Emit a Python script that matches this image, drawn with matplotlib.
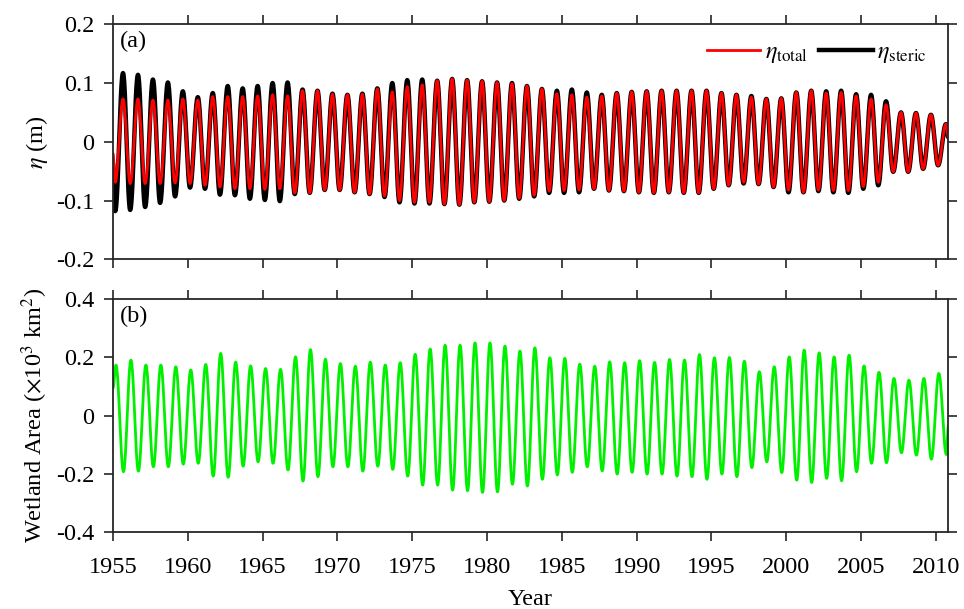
import numpy as np
import matplotlib
matplotlib.use("Agg")
import matplotlib.pyplot as plt
from matplotlib.ticker import FuncFormatter

plt.rcParams['font.family'] = ['Liberation Serif', 'DejaVu Serif']
plt.rcParams['mathtext.fontset'] = 'stix'
plt.rcParams['axes.unicode_minus'] = False

# yearly extremes (1955-2010)
years = np.arange(1955, 2011)

steric_peak = [0.117, 0.114, 0.106, 0.101, 0.086, 0.076, 0.083, 0.095, 0.091, 0.095,
               0.100, 0.101, 0.089, 0.087, 0.082, 0.080, 0.082, 0.091, 0.100, 0.105,
               0.106, 0.104, 0.107, 0.105, 0.103, 0.101, 0.100, 0.095, 0.090, 0.087,
               0.089, 0.084, 0.080, 0.083, 0.085, 0.086, 0.087, 0.087, 0.087, 0.087,
               0.083, 0.080, 0.078, 0.073, 0.074, 0.084, 0.087, 0.086, 0.087, 0.081,
               0.080, 0.069, 0.050, 0.049, 0.046, 0.030]
steric_trough = [-0.118, -0.116, -0.111, -0.104, -0.093, -0.078, -0.080, -0.090, -0.091, -0.097,
                 -0.099, -0.101, -0.089, -0.087, -0.082, -0.082, -0.086, -0.089, -0.094, -0.103,
                 -0.105, -0.105, -0.106, -0.107, -0.103, -0.102, -0.100, -0.097, -0.093, -0.087,
                 -0.087, -0.086, -0.080, -0.083, -0.084, -0.086, -0.087, -0.086, -0.087, -0.087,
                 -0.080, -0.074, -0.071, -0.072, -0.077, -0.086, -0.086, -0.084, -0.086, -0.087,
                 -0.080, -0.074, -0.051, -0.051, -0.046, -0.040]
total_peak = [0.073, 0.073, 0.071, 0.071, 0.073, 0.071, 0.077, 0.077, 0.077, 0.078,
              0.080, 0.078, 0.087, 0.087, 0.081, 0.080, 0.081, 0.090, 0.085, 0.094,
              0.097, 0.104, 0.107, 0.105, 0.103, 0.101, 0.099, 0.095, 0.090, 0.082,
              0.080, 0.076, 0.078, 0.083, 0.085, 0.086, 0.087, 0.087, 0.087, 0.087,
              0.083, 0.080, 0.076, 0.073, 0.074, 0.084, 0.087, 0.083, 0.084, 0.078,
              0.073, 0.063, 0.050, 0.049, 0.046, 0.030]
total_trough = [-0.069, -0.071, -0.071, -0.071, -0.070, -0.071, -0.074, -0.077, -0.080, -0.080,
                -0.081, -0.080, -0.087, -0.087, -0.082, -0.082, -0.086, -0.089, -0.092, -0.100,
                -0.103, -0.103, -0.106, -0.107, -0.103, -0.102, -0.100, -0.096, -0.091, -0.084,
                -0.083, -0.082, -0.080, -0.083, -0.084, -0.086, -0.087, -0.086, -0.087, -0.087,
                -0.080, -0.074, -0.069, -0.072, -0.077, -0.082, -0.086, -0.082, -0.083, -0.083,
                -0.076, -0.069, -0.051, -0.051, -0.046, -0.040]
steric_ends = [-0.037, 0.008]
total_ends = [-0.020, 0.008]

wet_peak = [0.174, 0.191, 0.174, 0.174, 0.168, 0.157, 0.176, 0.214, 0.184, 0.171,
            0.162, 0.159, 0.202, 0.227, 0.194, 0.179, 0.170, 0.184, 0.174, 0.182,
            0.211, 0.229, 0.242, 0.242, 0.250, 0.250, 0.239, 0.222, 0.233, 0.199,
            0.197, 0.177, 0.170, 0.185, 0.182, 0.189, 0.183, 0.193, 0.191, 0.210,
            0.199, 0.200, 0.187, 0.151, 0.168, 0.202, 0.225, 0.216, 0.202, 0.208,
            0.171, 0.149, 0.128, 0.122, 0.128, 0.145]
wet_trough = [-0.192, -0.190, -0.175, -0.175, -0.166, -0.163, -0.207, -0.211, -0.173, -0.158,
              -0.163, -0.186, -0.224, -0.209, -0.175, -0.175, -0.190, -0.173, -0.184, -0.207,
              -0.238, -0.238, -0.255, -0.257, -0.263, -0.261, -0.235, -0.241, -0.218, -0.203,
              -0.194, -0.175, -0.189, -0.200, -0.194, -0.200, -0.200, -0.207, -0.209, -0.218,
              -0.200, -0.209, -0.178, -0.158, -0.195, -0.221, -0.229, -0.215, -0.223, -0.192,
              -0.163, -0.161, -0.127, -0.135, -0.149, -0.133]
wet_ends = [0.095, -0.035]

t_start, t_end = 1955.0, 2010.83


def smooth_path(t_knots, v_knots, n=25):
    # join successive extremes with half-cosine segments
    ts, vs = [], []
    for i in range(len(t_knots) - 1):
        s = np.linspace(0, 1, n, endpoint=False)
        ts.append(t_knots[i] + (t_knots[i + 1] - t_knots[i]) * s)
        vs.append(v_knots[i] + (v_knots[i + 1] - v_knots[i]) * (1 - np.cos(np.pi * s)) / 2)
    ts.append([t_knots[-1]])
    vs.append([v_knots[-1]])
    return np.concatenate(ts), np.concatenate(vs)


def build(first, second, t1, t2, ends):
    tk, vk = [t_start], [ends[0]]
    for y, a, b in zip(years, first, second):
        tk += [y + t1, y + t2]
        vk += [a, b]
    tk.append(t_end)
    vk.append(ends[1])
    return smooth_path(tk, vk)


ts_st, vs_st = build(steric_trough, steric_peak, 0.15, 0.67, steric_ends)
ts_to, vs_to = build(total_trough, total_peak, 0.15, 0.67, total_ends)
ts_w, vs_w = build(wet_peak, wet_trough, 0.20, 0.70, wet_ends)

fig = plt.figure(figsize=(9.64, 6.09), dpi=100)
ax1 = fig.add_axes([0.1172, 0.5742, 0.8665, 0.3859])
ax2 = fig.add_axes([0.1172, 0.1258, 0.8665, 0.3830])

ax1.plot(ts_st, vs_st, color='black', lw=3.2, label=r'$\eta_{\mathrm{steric}}$')
ax1.plot(ts_to, vs_to, color='#ff0000', lw=2.0, label=r'$\eta_{\mathrm{total}}$')
ax2.plot(ts_w, vs_w, color='#00f000', lw=2.0)

fmt = FuncFormatter(lambda v, p: '%g' % round(v, 3))
for ax in (ax1, ax2):
    ax.set_xlim(t_start, t_end)
    ax.set_xticks(np.arange(1955, 2011, 5))
    ax.tick_params(direction='out', length=6.5, width=1.2, top=True, right=True,
                   labelsize=17.5, colors='#262626', labelcolor='black')
    ax.tick_params(axis='y', pad=7)
    ax.tick_params(axis='x', pad=11)
    ax.yaxis.set_major_formatter(fmt)
    for sp in ax.spines.values():
        sp.set_linewidth(1.3)
        sp.set_color('#262626')

ax1.set_ylim(-0.2, 0.2)
ax1.set_yticks([-0.2, -0.1, 0, 0.1, 0.2])
ax1.tick_params(labelbottom=False)
ax1.set_ylabel(r'$\eta$ (m)', fontsize=17.5, labelpad=4)
ax1.text(0.008, 0.97, '(a)', transform=ax1.transAxes, fontsize=17.5, va='top', ha='left')

h, l = ax1.get_legend_handles_labels()
ax1.legend([h[1], h[0]], [l[1], l[0]], loc='upper right', ncol=2, frameon=False,
           fontsize=17.5, handlelength=2.2, handletextpad=0.2, columnspacing=0.45,
           bbox_to_anchor=(0.995, 1.0), borderaxespad=0.3)

ax2.set_ylim(-0.4, 0.4)
ax2.set_yticks([-0.4, -0.2, 0, 0.2, 0.4])
ax2.set_ylabel(r'Wetland Area ($\times$10$^3$ km$^2$)', fontsize=17.5, labelpad=4)
ax2.set_xlabel('Year', fontsize=17.5, labelpad=8)
ax2.text(0.008, 0.97, '(b)', transform=ax2.transAxes, fontsize=17.5, va='top', ha='left')

fig.savefig('out.png', dpi=100)
